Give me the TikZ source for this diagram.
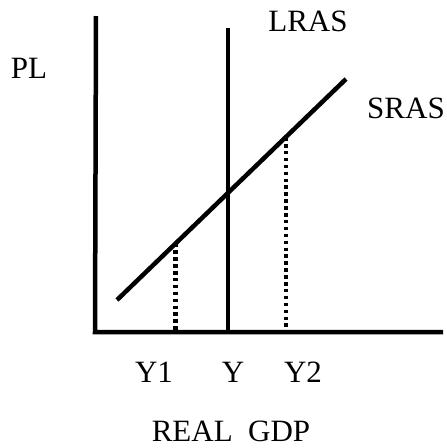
\documentclass[tikz,border=0pt]{standalone}
\usepackage{fontspec}
\setmainfont{Liberation Serif}
\usetikzlibrary{calc}

\tikzset{
  axisline/.style={line width=4.5pt},
  curveline/.style={line width=4.5pt},
  guideline/.style={line width=4.5pt, dash pattern=on 3.5pt off 3.4pt},
  lbl/.style={font=\fontsize{31}{36}\selectfont, inner sep=0pt, anchor=base}
}

\begin{document}
\begin{tikzpicture}[x=1pt, y=-1pt]
\useasboundingbox (0,0) rectangle (447,448);

%% Axes
\coordinate (O)    at (95,332);
\coordinate (Ytop) at (96,16);
\coordinate (Xend) at (443,332);
\draw[axisline] (Ytop) -- (O) -- (Xend);

%% LRAS
\coordinate (Ltop) at (228,28);
\coordinate (Lbot) at (228,331);
\draw[curveline] (Ltop) -- (Lbot);

%% SRAS
\coordinate (S1) at (117,300);
\coordinate (S2) at (346,79);
\draw[curveline] (S1) -- (S2);

%% Dotted guides
\coordinate (P1) at ($(S1)!0.256!(S2)$);
\coordinate (P2) at ($(S1)!0.737!(S2)$);
\draw[guideline] (P1) -- (P1 |- O);
\draw[guideline] (P2) -- (P2 |- O);

%% Labels
\node[lbl] (pl)   at (29,78)    {PL};
\node[lbl] (lras) at (308,31)   {LRAS};
\node[lbl] (sras) at (406,118)  {SRAS};
\node[lbl] (y1)   at (154,382)  {Y1};
\node[lbl] (y)    at (233,382)  {Y};
\node[lbl] (y2)   at (303,382)  {Y2};
\node[lbl] (gdp)  at (231,441)  {REAL\ \ GDP};
\end{tikzpicture}
\end{document}
